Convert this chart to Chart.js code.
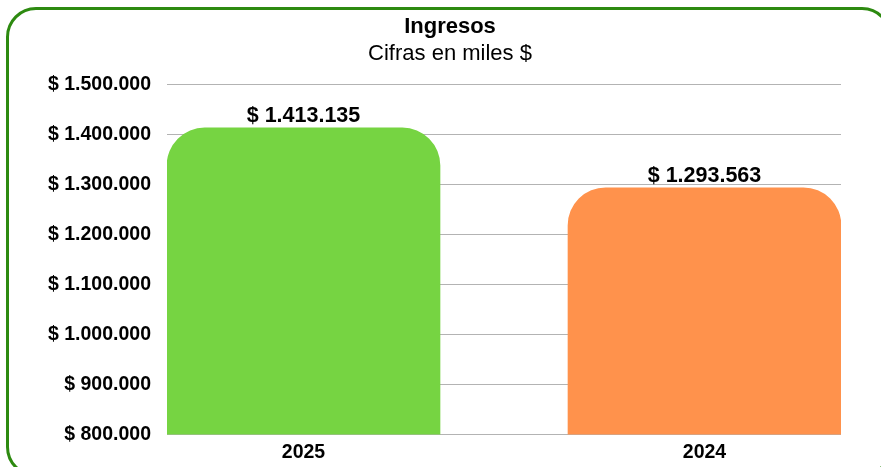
<!DOCTYPE html>
<html>
<head>
<meta charset="utf-8">
<script src="https://cdn.jsdelivr.net/npm/chart.js@4"></script>
<style>
  html, body { margin: 0; padding: 0; background: #fff; overflow: hidden; }
  .frame {
    position: absolute; left: 6px; top: 7px; width: 886px; height: 470px;
    box-sizing: border-box; border: 3px solid #2d8a10; border-radius: 30px;
  }
  #ingresosChart { position: absolute; left: 0; top: 0; }
</style>
</head>
<body>
<div class="frame"></div>
<canvas id="ingresosChart" width="900" height="467"></canvas>
<script>
const years = ['2025', '2024'];
const ingresos = [1413135, 1293563];
const barColors = ['#76d442', '#ff924c'];
const yTicks = [800000, 900000, 1000000, 1100000, 1200000, 1300000, 1400000, 1500000];

const fontFam = '"Liberation Sans", Arial, sans-serif';
const fmt = v => '$ ' + String(v).replace(/\B(?=(\d{3})+(?!\d))/g, '.');

// etiquetas de valor sobre cada barra
const valueLabels = {
  id: 'valueLabels',
  afterDatasetsDraw(chart) {
    const ctx = chart.ctx;
    ctx.save();
    ctx.font = 'bold 21.5px ' + fontFam;
    ctx.fillStyle = '#000';
    ctx.textAlign = 'center';
    ctx.textBaseline = 'alphabetic';
    chart.getDatasetMeta(0).data.forEach((bar, i) => {
      ctx.fillText(fmt(ingresos[i]), bar.x, bar.y - 6);
    });
    ctx.restore();
  }
};

new Chart(document.getElementById('ingresosChart'), {
  type: 'bar',
  data: {
    datasets: [{
      data: years.map((y, i) => ({ x: i, y: ingresos[i] })),
      backgroundColor: barColors,
      borderWidth: 0,
      barThickness: 273,
      borderRadius: { topLeft: 38, topRight: 38, bottomLeft: 0, bottomRight: 0 },
      borderSkipped: 'start'
    }]
  },
  options: {
    responsive: false,
    animation: false,
    layout: { padding: { left: 0, right: 0, top: 0, bottom: 3.5 } },
    plugins: {
      legend: { display: false },
      tooltip: { enabled: false },
      title: {
        display: true,
        text: 'Ingresos',
        color: '#000',
        font: { family: fontFam, size: 22, weight: 'bold' },
        padding: { top: 13.5, bottom: 1.2 }
      },
      subtitle: {
        display: true,
        text: 'Cifras en miles $',
        color: '#000',
        font: { family: fontFam, size: 22, weight: 'normal' },
        padding: { top: 0, bottom: 17 }
      }
    },
    scales: {
      x: {
        type: 'linear',
        offset: false,
        min: -0.3404,
        max: 1.3404,
        afterBuildTicks: scale => { scale.ticks = years.map((y, i) => ({ value: i })); },
        afterFit: scale => { scale.height = 29; },
        ticks: {
          padding: 6,
          color: '#000',
          font: { family: fontFam, size: 19.5, weight: 'bold' },
          callback: v => years[v]
        },
        grid: { display: false, drawTicks: false },
        border: { display: false }
      },
      y: {
        min: yTicks[0],
        max: yTicks[yTicks.length - 1],
        afterBuildTicks: scale => { scale.ticks = yTicks.map(v => ({ value: v })); },
        afterFit: scale => { scale.width = 167; },
        ticks: {
          padding: 16,
          color: '#000',
          font: { family: fontFam, size: 19.5, weight: 'bold' },
          callback: v => fmt(v)
        },
        grid: { color: '#b3b3b3', lineWidth: 1, drawTicks: false },
        border: { display: false }
      },
      // eje vacío a la derecha, solo reserva espacio para centrar el título
      yRight: {
        position: 'right',
        afterFit: scale => { scale.width = 59; },
        ticks: { display: false },
        grid: { display: false, drawTicks: false },
        border: { display: false }
      }
    }
  },
  plugins: [valueLabels]
});
</script>
</body>
</html>
